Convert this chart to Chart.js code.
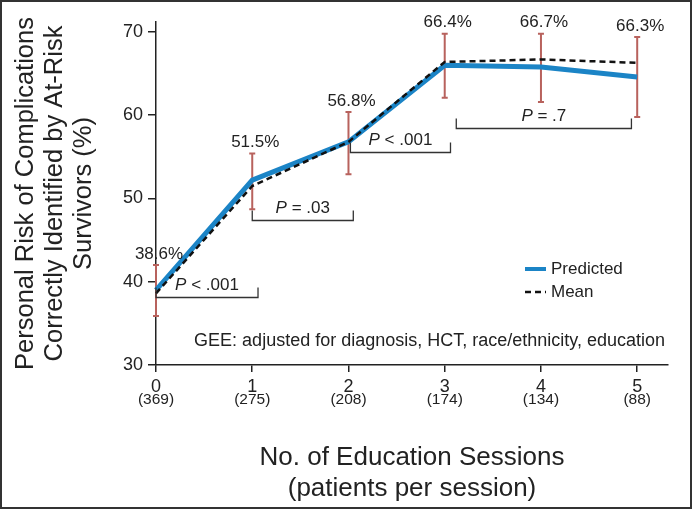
<!DOCTYPE html>
<html>
<head>
<meta charset="utf-8">
<script src="https://cdn.jsdelivr.net/npm/chart.js@4.4.0/dist/chart.umd.min.js"></script>
<style>
  html, body { margin: 0; padding: 0; background: #fff; }
  #wrap { width: 692px; height: 509px; position: relative; }
</style>
</head>
<body>
<div id="wrap"><canvas id="riskChart"></canvas></div>
<script>
const sessions = [0, 1, 2, 3, 4, 5];
const patientsPerSession = ['(369)', '(275)', '(208)', '(174)', '(134)', '(88)'];
const predictedValues = [39.0, 52.2, 56.8, 66.0, 65.8, 64.6];
const meanValues = [38.6, 51.5, 56.8, 66.4, 66.7, 66.3];
const meanLabels = ['38.6%', '51.5%', '56.8%', '66.4%', '66.7%', '66.3%'];
const ciLower = [35.9, 48.7, 52.9, 62.1, 61.6, 59.8];
const ciUpper = [42.0, 55.4, 60.4, 69.8, 69.8, 69.4];
const yTicks = [30, 40, 50, 60, 70];

// P value brackets (session range + level on the y scale)
const bracketFrom = [0, 1, 2.02, 3.12];
const bracketTo = [1.06, 2.05, 3.06, 4.94];
const bracketLevel = [38.15, 47.4, 55.55, 58.45];
const bracketText = ['< .001', '= .03', '< .001', '= .7'];

const noteText = 'GEE: adjusted for diagnosis, HCT, race/ethnicity, education';

const FONT = '"Liberation Sans", Arial, Helvetica, sans-serif';
const INK = '#222';
const BLUE = '#1b84c6';
const CI_RED = '#b8625d';

function toPoints(values) {
  return sessions.map((s, i) => ({ x: s, y: values[i] }));
}

// error bars behind the lines
const errorBars = {
  id: 'errorBars',
  beforeDatasetsDraw(chart) {
    const { ctx, scales: { x, y } } = chart;
    ctx.save();
    ctx.strokeStyle = CI_RED;
    ctx.lineWidth = 2;
    sessions.forEach((s, i) => {
      const px = x.getPixelForValue(s);
      const top = y.getPixelForValue(ciUpper[i]);
      const bot = y.getPixelForValue(ciLower[i]);
      ctx.beginPath();
      ctx.moveTo(px, top); ctx.lineTo(px, bot);
      ctx.moveTo(px - 3, top); ctx.lineTo(px + 3, top);
      ctx.moveTo(px - 3, bot); ctx.lineTo(px + 3, bot);
      ctx.stroke();
    });
    ctx.restore();
  }
};

const annotations = {
  id: 'annotations',
  afterDraw(chart) {
    const { ctx, chartArea, scales: { x, y } } = chart;
    ctx.save();
    ctx.fillStyle = INK;

    // mean labels above bars
    ctx.font = '17px ' + FONT;
    ctx.textAlign = 'center';
    ctx.textBaseline = 'middle';
    sessions.forEach((s, i) => {
      ctx.fillText(meanLabels[i], x.getPixelForValue(s) + 3, y.getPixelForValue(ciUpper[i]) - 11);
    });

    // patients per session under tick labels
    ctx.font = '15.5px ' + FONT;
    sessions.forEach((s, i) => {
      ctx.fillText(patientsPerSession[i], x.getPixelForValue(s), chartArea.bottom + 35);
    });

    // brackets with P values
    ctx.strokeStyle = '#333';
    ctx.lineWidth = 1.3;
    bracketFrom.forEach((from, i) => {
      const x0 = x.getPixelForValue(from);
      const x1 = x.getPixelForValue(bracketTo[i]);
      const by = Math.round(y.getPixelForValue(bracketLevel[i])) + 0.5;
      ctx.beginPath();
      ctx.moveTo(x0, by - 10); ctx.lineTo(x0, by); ctx.lineTo(x1, by); ctx.lineTo(x1, by - 10);
      ctx.stroke();

      const rest = ' ' + bracketText[i];
      ctx.font = 'italic 17px ' + FONT;
      const wP = ctx.measureText('P').width;
      ctx.font = '17px ' + FONT;
      const wR = ctx.measureText(rest).width;
      const start = (x0 + x1) / 2 - (wP + wR) / 2;
      ctx.textAlign = 'left';
      ctx.textBaseline = 'alphabetic';
      ctx.font = 'italic 17px ' + FONT;
      ctx.fillText('P', start, by - 8);
      ctx.font = '17px ' + FONT;
      ctx.fillText(rest, start + wP, by - 8);
    });

    // legend
    const lx = chartArea.right - 143;
    const ly = chartArea.bottom - 96;
    ctx.textAlign = 'left';
    ctx.textBaseline = 'middle';
    ctx.font = '17px ' + FONT;
    const order = [1, 0];
    order.forEach((di, row) => {
      const ds = chart.data.datasets[di];
      const rowY = ly + row * 23;
      ctx.save();
      ctx.strokeStyle = ds.borderColor;
      ctx.lineWidth = di === 1 ? 4 : 2.5;
      ctx.setLineDash(ds.borderDash || []);
      ctx.beginPath();
      ctx.moveTo(lx, rowY); ctx.lineTo(lx + 21, rowY);
      ctx.stroke();
      ctx.restore();
      ctx.fillText(ds.label, lx + 26, rowY);
    });

    // model note
    ctx.font = '18px ' + FONT;
    ctx.textAlign = 'right';
    ctx.fillText(noteText, chartArea.right - 3, chartArea.bottom - 24);

    // frame
    ctx.strokeStyle = '#333';
    ctx.lineWidth = 2;
    ctx.strokeRect(1, 1, chart.width - 2, chart.height - 2);
    ctx.restore();
  }
};

new Chart(document.getElementById('riskChart'), {
  type: 'line',
  data: {
    datasets: [
      {
        label: 'Mean',
        data: toPoints(meanValues),
        borderColor: '#111',
        borderWidth: 2.5,
        borderDash: [6, 4],
        pointRadius: 0,
        clip: false,
        order: 0
      },
      {
        label: 'Predicted',
        data: toPoints(predictedValues),
        borderColor: BLUE,
        borderWidth: 5,
        pointRadius: 0,
        clip: false,
        order: 1
      }
    ]
  },
  options: {
    responsive: true,
    maintainAspectRatio: false,
    animation: false,
    layout: { padding: { top: 22, right: 24, bottom: 0, left: 0 } },
    plugins: {
      legend: { display: false },
      tooltip: { enabled: false }
    },
    scales: {
      x: {
        type: 'linear',
        min: 0,
        max: 5.32,
        afterFit: (s) => { s.height = 144; },
        afterBuildTicks: (s) => { s.ticks = sessions.map(v => ({ value: v })); },
        grid: { drawOnChartArea: false, tickLength: 7, color: INK, lineWidth: 1.5 },
        border: { color: INK, width: 1.5 },
        ticks: { color: INK, font: { family: FONT, size: 18 }, padding: 4, maxRotation: 0 },
        title: {
          display: true,
          text: ['No. of Education Sessions', '(patients per session)'],
          color: INK,
          font: { family: FONT, size: 26, lineHeight: 1.19 },
          padding: { top: 0, bottom: 5 }
        }
      },
      y: {
        min: 30,
        max: 71.2,
        afterFit: (s) => { s.width = 156; },
        afterBuildTicks: (s) => { s.ticks = yTicks.map(v => ({ value: v })); },
        grid: { drawOnChartArea: false, tickLength: 8, color: INK, lineWidth: 1.5 },
        border: { color: INK, width: 1.5 },
        ticks: { color: INK, font: { family: FONT, size: 18 }, padding: 5 },
        title: {
          display: true,
          text: ['Personal Risk of Complications', 'Correctly Identified by At-Risk', 'Survivors (%)'],
          color: INK,
          font: { family: FONT, size: 25.5, lineHeight: 1.14 },
          padding: { top: 11, bottom: 0 }
        }
      }
    }
  },
  plugins: [errorBars, annotations]
});
</script>
</body>
</html>
